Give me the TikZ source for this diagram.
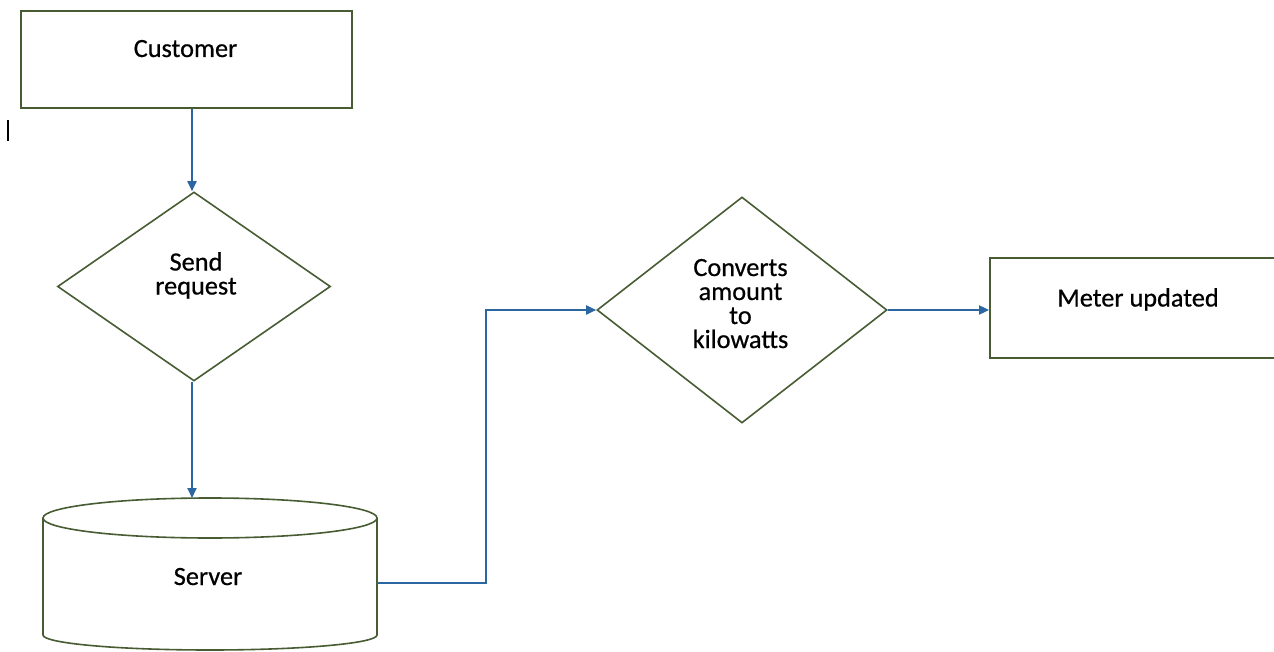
\documentclass[tikz,border=0pt]{standalone}
\usepackage{fontspec}
\setmainfont{Carlito}[FakeBold=0.6]
\usetikzlibrary{arrows.meta,shapes.geometric,calc}
\definecolor{outl}{RGB}{72,92,52}
\definecolor{arr}{RGB}{44,102,160}
\begin{document}
\begin{tikzpicture}[x=1pt,y=-1pt,
  box/.style={draw=outl,line width=1.8pt,rectangle,inner sep=0pt},
  dia/.style={draw=outl,line width=1.6pt,diamond,inner sep=0pt},
  lbl/.style={font=\fontsize{26.3}{24}\selectfont,align=center,inner sep=0pt,anchor=base},
  conn/.style={draw=arr,line width=1.8pt,-{Triangle[length=10pt,width=9pt]}}]
\clip (0,0) rectangle (1274,652);
\fill[white] (0,0) rectangle (1274,652);
% Customer
\node[box,minimum width=331pt,minimum height=97pt] (customer) at (186.5,59.5) {};
\node[lbl] (customertxt) at (185.5,57) {Customer};
% cursor mark
\draw[line width=1.6pt] (8,120) -- (8,141);
% Send request
\node[dia,minimum width=273pt,minimum height=189pt] (send) at (194,286.5) {};
\node[lbl] (sendtxt) at (196,294.5) {Send\\request};
% Server cylinder
\draw[outl,line width=1.6pt,fill=white] (43,518) -- (43,635) arc[start angle=180,end angle=0,x radius=167,y radius=15] -- (377,518);
\draw[outl,line width=1.6pt] (210,518) ellipse[x radius=167,y radius=20];
\node[inner sep=0pt,minimum width=334pt,minimum height=137pt] (server) at (210,567) {};
\node[lbl] (servertxt) at (208,585) {Server};
\coordinate (servertop) at (192,498);
\coordinate (serverR) at (377,583);
\coordinate (bend) at (486,310);
% Converts
\node[dia,minimum width=290pt,minimum height=226pt] (conv) at (742,310) {};
\node[lbl] (convtxt) at (740.5,348) {Converts\\amount\\to\\kilowatts};
% Meter updated
\node[box,minimum width=296pt,minimum height=100pt] (meter) at (1138,308) {};
\node[lbl] (metertxt) at (1138,306.5) {Meter updated};
% connectors
\draw[conn] (customer.south -| servertop) -- (send.north -| servertop);
\draw[conn] (send.south -| servertop) -- (servertop);
\draw[conn] (serverR) -| (bend) -- (conv.west);
\draw[conn] (conv.east) -- (conv.east -| meter.west);
\end{tikzpicture}
\end{document}
